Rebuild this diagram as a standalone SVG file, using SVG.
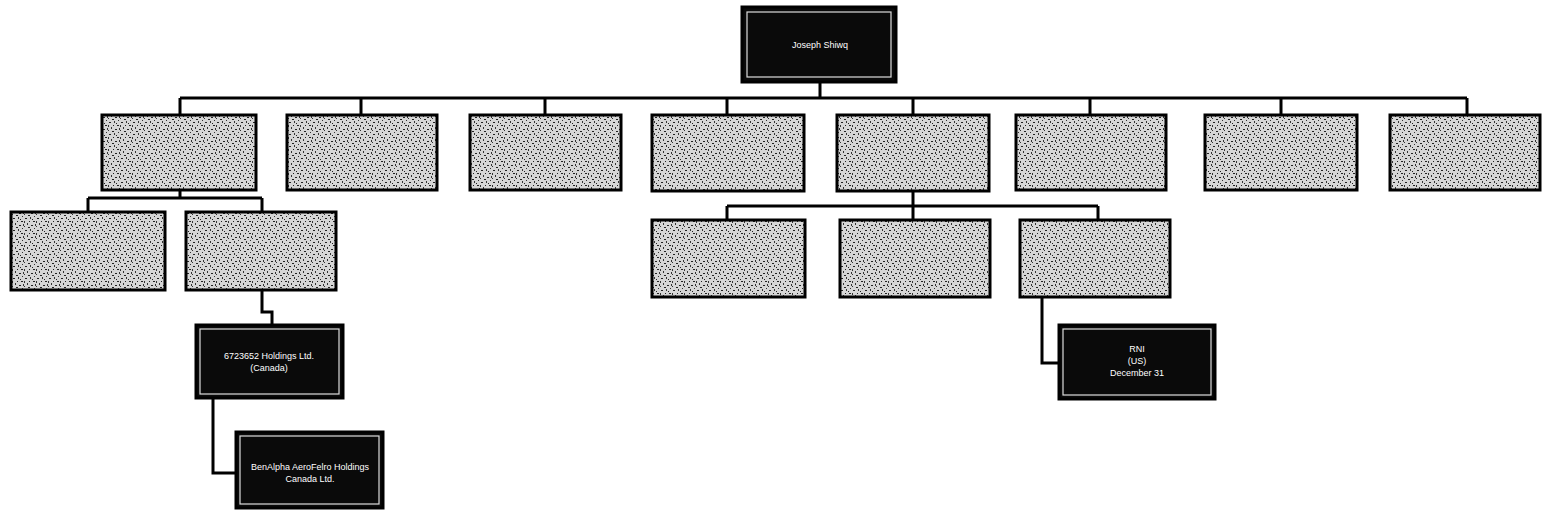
<svg xmlns="http://www.w3.org/2000/svg" width="1542" height="514" viewBox="0 0 1542 514">
<defs>
<pattern id="spk" width="12" height="12" patternUnits="userSpaceOnUse">
<rect width="12" height="12" fill="#d6d6d6"/>
<rect x="1" y="2" width="2" height="1" fill="#222"/>
<rect x="6" y="1" width="1" height="2" fill="#333"/>
<rect x="9" y="5" width="2" height="1" fill="#222"/>
<rect x="3" y="7" width="1" height="2" fill="#333"/>
<rect x="7" y="9" width="2" height="1" fill="#222"/>
<rect x="0" y="10" width="1" height="1" fill="#333"/>
<rect x="10" y="0" width="1" height="1" fill="#333"/>
<rect x="5" y="5" width="1" height="1" fill="#222"/>
<rect x="0" y="5" width="1" height="2" fill="#333"/>
<rect x="4" y="11" width="2" height="1" fill="#222"/>
<rect x="11" y="8" width="1" height="2" fill="#333"/>
<rect x="8" y="3" width="1" height="1" fill="#222"/>
</pattern>
<style>
.g{fill:url(#spk);stroke:#000;stroke-width:3}
.d{fill:#0a0a0a;stroke:#000;stroke-width:3}
.di{fill:none;stroke:#ddd;stroke-width:1.2}
.c{fill:none;stroke:#000;stroke-width:3}
.t{font-family:"Liberation Sans",Arial,sans-serif;font-size:9px;fill:#fff;text-anchor:middle}
</style>
</defs>
<rect width="1542" height="514" fill="#fff"/>
<g id="connectors">
<path class="c" d="M820 82 V98 M180 98 H1467 M180 98 V115 M361 98 V115 M545 98 V115 M727 98 V115 M913 98 V115 M1090 98 V115 M1281 98 V115 M1467 98 V115"/>
<path class="c" d="M180 190 V198 M88 198 H262 M88 198 V212 M262 198 V212"/>
<path class="c" d="M262 290 V312 H272 V325"/>
<path class="c" d="M213 398 V473 H235"/>
<path class="c" d="M913 191 V206 M727 206 H1098 M727 206 V220 M913 206 V220 M1098 206 V220"/>
<path class="c" d="M1042 297 V363 H1058"/>
</g>
<g id="root"><rect class="d" x="742" y="7" width="154" height="75"/><rect class="di" x="747" y="12" width="144" height="65"/><text class="t" x="820" y="48">Joseph Shiwq</text></g>
<g id="n1"><rect class="g" x="102" y="115" width="154" height="75"/></g>
<g id="n2"><rect class="g" x="287" y="115" width="150" height="75"/></g>
<g id="n3"><rect class="g" x="470" y="115" width="151" height="75"/></g>
<g id="n4"><rect class="g" x="652" y="115" width="152" height="76"/></g>
<g id="n5"><rect class="g" x="837" y="115" width="152" height="76"/></g>
<g id="n6"><rect class="g" x="1016" y="115" width="150" height="75"/></g>
<g id="n7"><rect class="g" x="1205" y="115" width="152" height="75"/></g>
<g id="n8"><rect class="g" x="1390" y="115" width="150" height="75"/></g>
<g id="n1a"><rect class="g" x="11" y="212" width="154" height="78"/></g>
<g id="n1b"><rect class="g" x="186" y="212" width="150" height="78"/></g>
<g id="n5a"><rect class="g" x="652" y="220" width="153" height="77"/></g>
<g id="n5b"><rect class="g" x="840" y="220" width="150" height="77"/></g>
<g id="n5c"><rect class="g" x="1020" y="220" width="150" height="77"/></g>
<g id="hold"><rect class="d" x="196" y="325" width="147" height="73"/><rect class="di" x="200" y="329" width="139" height="65"/><text class="t" x="269" y="359">6723652 Holdings Ltd.</text><text class="t" x="269" y="371">(Canada)</text></g>
<g id="ben"><rect class="d" x="236" y="432" width="147" height="76"/><rect class="di" x="240" y="436" width="139" height="68"/><text class="t" x="310" y="470">BenAlpha AeroFelro Holdings</text><text class="t" x="310" y="482">Canada Ltd.</text></g>
<g id="rni"><rect class="d" x="1059" y="325" width="156" height="74"/><rect class="di" x="1063" y="329" width="148" height="66"/><text class="t" x="1137" y="352">RNI</text><text class="t" x="1137" y="364">(US)</text><text class="t" x="1137" y="376">December 31</text></g>
</svg>
